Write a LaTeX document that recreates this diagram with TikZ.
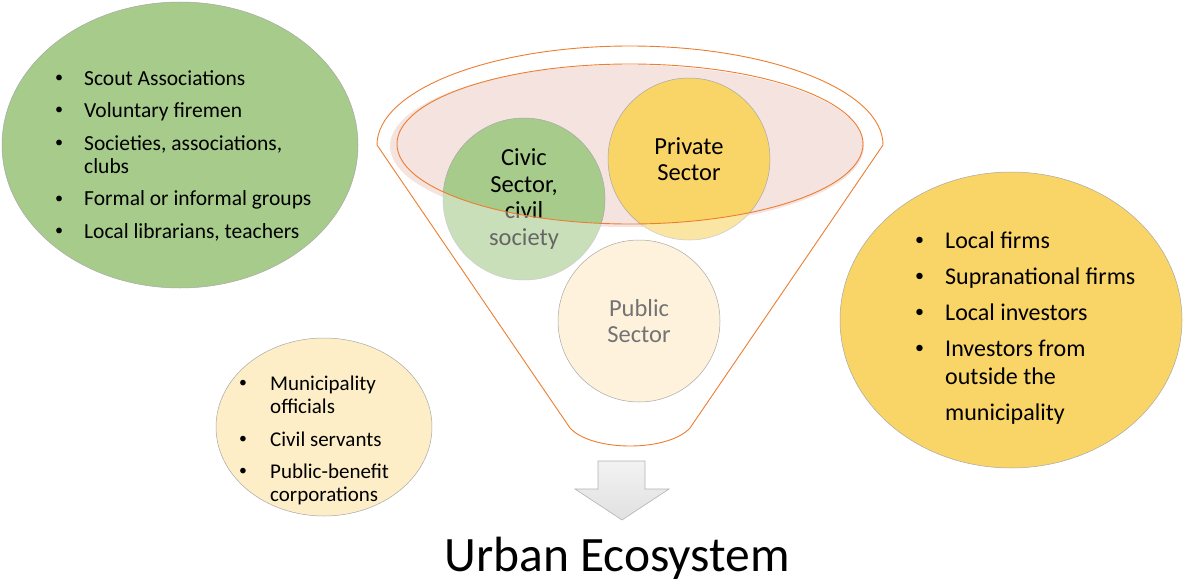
\documentclass[tikz,border=0pt]{standalone}
\usepackage{fontspec}
\setmainfont{Carlito}
\usetikzlibrary{shapes.geometric}
\definecolor{grn}{HTML}{A6CB8B}
\definecolor{ylw}{HTML}{F9D466}
\definecolor{lylw}{HTML}{FDEEC8}
\definecolor{pub}{HTML}{FEF2DC}
\definecolor{pink}{HTML}{F4E3DF}
\definecolor{orng}{HTML}{ED7D31}
\definecolor{edge}{HTML}{A8A8A8}
\newlength\bulw
\setlength\bulw{28pt}
\newcommand\bitem[1]{\makebox[\bulw][l]{\raisebox{0.12em}{\scalebox{0.75}{\textbullet}}}#1}
\newcommand\bcont[1]{\hspace*{\bulw}#1}
\tikzset{
  blob/.style={ellipse, draw=edge, line width=0.5pt, inner sep=0pt},
  sector/.style={circle, draw=edge, line width=0.5pt, minimum size=162pt, inner sep=0pt, align=center,
                 font=\fontsize{24.5}{26.5}\selectfont},
  listtext/.style={align=left, inner sep=0pt, anchor=north west},
  funnelline/.style={draw=orng, line width=0.9pt},
}
\begin{document}
\begin{tikzpicture}[x=1pt,y=-1pt]
\useasboundingbox (0,0) rectangle (1183,586);

% left green ellipse
\node[blob, fill=grn, minimum width=356pt, minimum height=286pt] (civicblob) at (180,145) {};
\node[listtext, font=\fontsize{21.5}{23}\selectfont\setlength\bulw{29pt}] (civiclist) at (55,70)
 {\bitem{Scout Associations}\\[9.5pt]
  \bitem{Voluntary firemen}\\[9.5pt]
  \bitem{Societies, associations,}\\
  \bcont{clubs}\\[9.7pt]
  \bitem{Formal or informal groups}\\[9.7pt]
  \bitem{Local librarians, teachers}};

% right yellow ellipse
\node[blob, fill=ylw, minimum width=342pt, minimum height=296pt] (privblob) at (1011,320) {};
\node[listtext, font=\fontsize{24}{28}\selectfont\setlength\bulw{30pt}] (privlist) at (915,232)
 {\bitem{Local firms}\\[8pt]
  \bitem{Supranational firms}\\[8pt]
  \bitem{Local investors}\\[8pt]
  \bitem{Investors from}\\
  \bcont{outside the}\\[8pt]
  \bcont{municipality}};

% bottom-left ellipse
\node[blob, fill=lylw, minimum width=216pt, minimum height=178pt] (pubblob) at (324,427) {};
\node[listtext, font=\fontsize{21}{23.5}\selectfont\setlength\bulw{31pt}] (publist) at (239,375.5)
 {\bitem{Municipality}\\
  \bcont{officials}\\[8.8pt]
  \bitem{Civil servants}\\[8.8pt]
  \bitem{Public-benefit}\\
  \bcont{corporations}};

% funnel outline
\coordinate (fl) at (377,145);
\coordinate (fr) at (883,145);
\coordinate (bl) at (570,428);
\coordinate (br) at (690,428);
\draw[funnelline] (fl) arc[start angle=180, end angle=0, x radius=253pt, y radius=99pt]
  -- (br) .. controls (668,452) and (592,452) .. (bl) -- cycle;

% inner pink ellipse fill
\node[ellipse, fill=pink, minimum width=474pt, minimum height=162pt, inner sep=0pt] (rim) at (627,146) {};

% sector circles
\node[sector, fill=pub, text=black!55] (public) at (639,321) {Public\\Sector};
\node[sector, fill=grn] (civic) at (524,199) {Civic\\Sector,\\civil\\society};
\node[sector, fill=ylw] (private) at (689,159) {Private\\Sector};

% lighten the parts of the circles outside the rim
\begin{scope}
  \clip (524,199) circle[radius=81.5pt] (689,159) circle[radius=81.5pt];
  \fill[white, opacity=0.4, even odd rule] (300,0) rectangle (900,400)
     (630,144) ellipse[x radius=233pt, y radius=80pt];
\end{scope}

% rim outline
\draw[funnelline] (630,144) ellipse[x radius=233pt, y radius=80pt];

% arrow
\draw[draw=black!30, line width=0.6pt, top color=white!95!black, bottom color=black!12]
  (598,461) -- (645,461) -- (645,489) -- (669,489) -- (622,520) -- (575,489) -- (598,489) -- cycle;

% title
\node[font=\fontsize{49.5}{55}\selectfont] (title) at (617,558) {Urban Ecosystem};
\end{tikzpicture}
\end{document}
